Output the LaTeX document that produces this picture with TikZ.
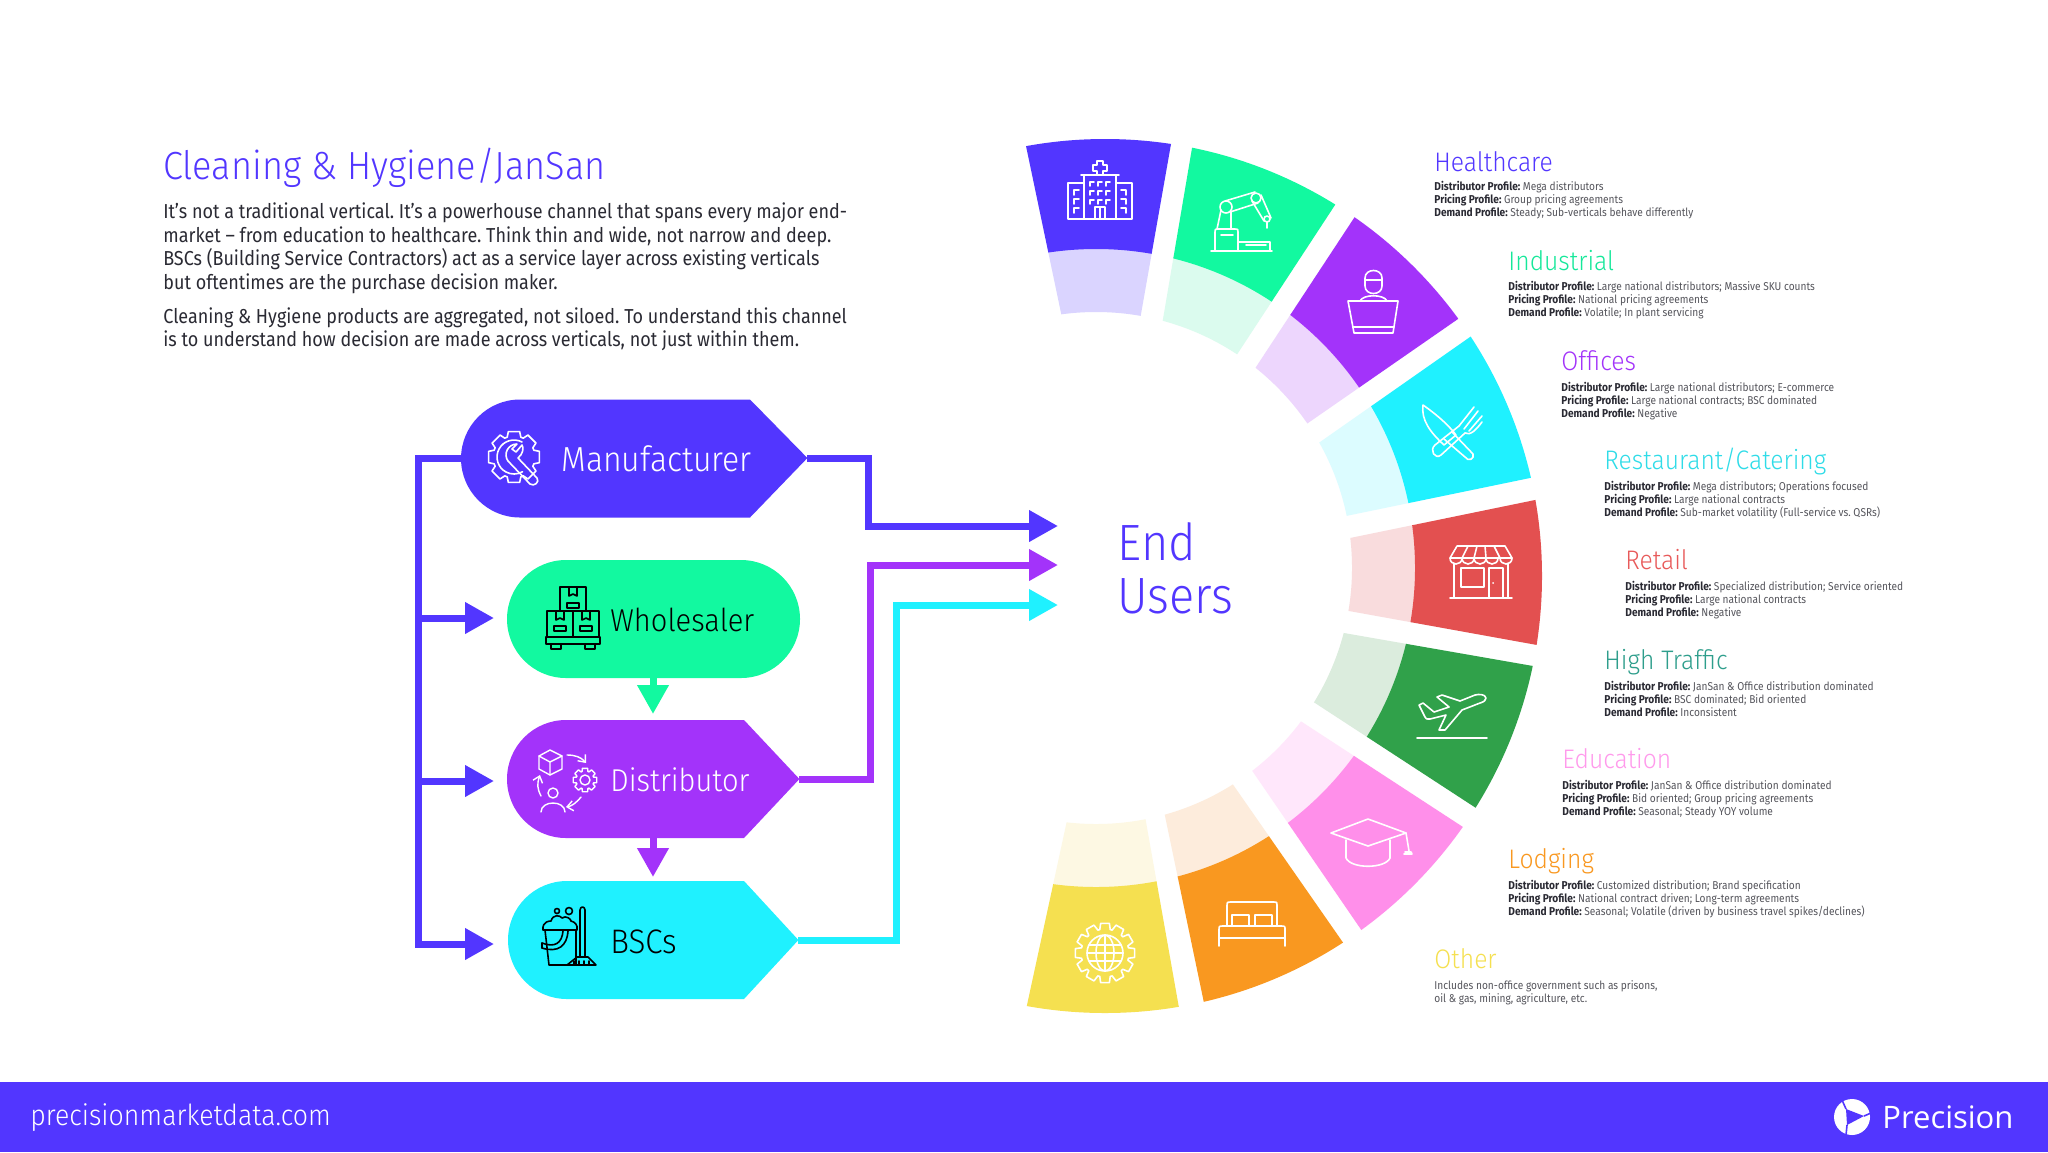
\documentclass[tikz,border=0pt]{standalone}
\usepackage{fontspec}
\setmainfont{Fira Sans}[FakeStretch=0.89]
\newfontfamily\lightf{Fira Sans Light}[FakeStretch=0.92]
\newfontfamily\logof{Open Sans}
\frenchspacing
\usetikzlibrary{calc,arrows.meta}
\definecolor{indigo}{HTML}{5236FF}
\definecolor{mint}{HTML}{12F9A0}
\definecolor{violet}{HTML}{A333FA}
\definecolor{aqua}{HTML}{1FF1FF}
\definecolor{redc}{HTML}{E35050}
\definecolor{forest}{HTML}{30A14A}
\definecolor{pinkc}{HTML}{FF8FEA}
\definecolor{orangec}{HTML}{F99820}
\definecolor{yellowc}{HTML}{F5E050}
\definecolor{lindigo}{HTML}{DAD4FF}
\definecolor{lmint}{HTML}{DBFBEE}
\definecolor{lviolet}{HTML}{EDD6FD}
\definecolor{laqua}{HTML}{DCFCFF}
\definecolor{lred}{HTML}{F9DCDD}
\definecolor{lforest}{HTML}{DBECDD}
\definecolor{lpink}{HTML}{FFE7FB}
\definecolor{lorange}{HTML}{FDECDC}
\definecolor{lyellow}{HTML}{FDF8E3}
\definecolor{inkdark}{HTML}{2A2A33}
\definecolor{inkgray}{HTML}{55555C}
\definecolor{tealh}{HTML}{2E9E8C}
\definecolor{aquah}{HTML}{2FDCE8}
\definecolor{redh}{HTML}{E85A5A}
\definecolor{minth}{HTML}{15E89A}
\definecolor{pinkh}{HTML}{FF9AEC}
\newcommand\seg[6]{%
 \begin{scope}
 \clip ($#6!1.15!#3$) -- ($#5!1.15!#4$) -- ($#4!1.15!#5$) -- ($#3!1.15!#6$) -- cycle;
 \fill[#2,even odd rule] (1096,568) circle[radius=321] (1096,568) circle[radius=256];
 \fill[#1,even odd rule] (1105,576) circle[radius=437] (1096,568) circle[radius=319];
 \end{scope}}
% gear outline: teeth count via step, outer, inner radius
\newcommand\gearline[3]{%
 \draw (0-#1*0.28:#2) \foreach \a in {0,#1,...,359}{ -- (\a-#1*0.28:#2) -- (\a+#1*0.28:#2) -- (\a+#1*0.42:#3) -- (\a+#1*0.58:#3) } -- cycle;}
\newcommand\profl[3]{\textbf{\textcolor{inkdark}{Distributor Profile:}} #1\\\textbf{\textcolor{inkdark}{Pricing Profile:}} #2\\\textbf{\textcolor{inkdark}{Demand Profile:}} #3}
\tikzset{
 hd/.style={anchor=west,inner sep=0pt,text height=9.5pt,text depth=0pt,font=\lightf\fontsize{13.4}{15}\selectfont},
 dl/.style={anchor=west,inner sep=0pt,align=left,text=inkgray,font=\fontsize{5.7}{6.5}\selectfont},
 para/.style={anchor=west,inner sep=0pt,align=left,text=inkdark,font=\fontsize{10.1}{11.75}\selectfont},
 stage/.style={inner sep=0pt,minimum width=#1,minimum height=59pt,draw=none},
 stagetext/.style={anchor=west,inner sep=0pt,text height=12pt,text depth=0pt},
 flow/.style={line width=3.5pt,-{Triangle[length=14.5pt,width=15pt]},#1},
 ico/.style={line width=0.8pt,line join=round,line cap=round,color=#1},
}
\begin{document}
\begin{tikzpicture}[x=0.5pt,y=-0.5pt]
\useasboundingbox (0,0) rectangle (2048,1152);
\fill[white] (0,0) rectangle (2048,1152);
% title and text
\node[anchor=west,inner sep=0pt,text=indigo,font=\lightf\fontsize{19.6}{20}\selectfont] (title) at (163,168) {Cleaning \& Hygiene/JanSan};
\node[para] (p1) at (163,248.5) {It's not a traditional vertical. It's a powerhouse channel that spans every major end-\\market – from education to healthcare. Think thin and wide, not narrow and deep.\\BSCs (Building Service Contractors) act as a service layer across existing verticals\\but oftentimes are the purchase decision maker.};
\node[para] (p2) at (163,329.5) {Cleaning \& Hygiene products are aggregated, not siloed. To understand this channel\\is to understand how decision are made across verticals, not just within them.};
% fan
\seg{indigo}{lindigo}{(1026,146)}{(1171,144)}{(1141,314)}{(1061,313)}
\seg{mint}{lmint}{(1192,148)}{(1335,205)}{(1238,353)}{(1163,319)}
\seg{violet}{lviolet}{(1354,218)}{(1458,319)}{(1308,423)}{(1256,367)}
\seg{aqua}{laqua}{(1470,337)}{(1530,478)}{(1346,516)}{(1320,442)}
\seg{redc}{lred}{(1535,500)}{(1537,645)}{(1349,611)}{(1350,538)}
\seg{forest}{lforest}{(1533,666)}{(1476,808)}{(1315,703)}{(1344,633)}
\seg{pinkc}{lpink}{(1463,827)}{(1362,931)}{(1253,772)}{(1302,722)}
\seg{orangec}{lorange}{(1344,944)}{(1204,1003)}{(1165,816)}{(1234,786)}
\seg{yellowc}{lyellow}{(1179,1008)}{(1027,1005)}{(1066,825)}{(1146,822)}
% fan icons
\begin{scope}[shift={(1100,190)},ico=white]
 \draw (-16,-7) -- (-32,-7) -- (-32,29) -- (32,29) -- (32,-7) -- (16,-7);
 \draw (-16,29) -- (-16,-15) -- (16,-15) -- (16,29) (-19,-15) -- (19,-15);
 \draw (-3,-15) -- (-3,-19) -- (-7,-19) -- (-7,-25) -- (-3,-25) -- (-3,-29) -- (3,-29) -- (3,-25) -- (7,-25) -- (7,-19) -- (3,-19) -- (3,-15);
 \draw (-5,29) -- (-5,17) -- (5,17) -- (5,29) (0,17) -- (0,29);
 \foreach \yy in {-8,1,10}{\foreach \xx in {-10,-2,6}{\draw (\xx,\yy+4) -- (\xx,\yy) -- (\xx+4,\yy);}}
 \foreach \yy in {0,9,18}{\draw (-26,\yy+5) -- (-26,\yy) -- (-21,\yy); \draw (26,\yy+5) -- (26,\yy) -- (21,\yy);}
\end{scope}
\begin{scope}[shift={(1241,222)},ico=white]
 \draw (-30,29) -- (31,29);
 \draw (-26,29) -- (-26,10) .. controls (-26,7) .. (-23,7) -- (-6,7) .. controls (-3,7) .. (-3,10) -- (-3,29);
 \draw (-20,13) -- (-8,13);
 \draw (-3,20) -- (29,20) -- (29,29) (5,23) -- (25,23);
 \draw (-15,-15) circle[radius=6];
 \draw (15,-24) circle[radius=5];
 \draw (-16,-21) -- (14,-30) (-11,-10) -- (17,-19);
 \draw (-20,-12) -- (-24,7) (-10,-10) -- (-10,7);
 \draw (11,-21) -- (23,-1) (20,-27) -- (30,-4);
 \draw (26,-3) circle[radius=3];
 \draw (26,0) -- (26,6);
\end{scope}
\begin{scope}[shift={(1373,302)},ico=white]
 \draw (-8,-24) .. controls (-8,-34) and (9,-34) .. (9,-24) -- (9,-16) .. controls (9,-6) and (-8,-6) .. (-8,-16) -- cycle;
 \draw (-8,-22) -- (9,-22);
 \draw (-13,-1) .. controls (-10,-8) and (11,-8) .. (14,-1);
 \draw (-25,-1) -- (25,-1) -- (20,31) -- (-19,31) -- cycle;
 \draw (-20,25) -- (21,25);
\end{scope}
\begin{scope}[shift={(1452,430)},ico=white]
 \draw (-29,-25) .. controls (-12,-13) and (-2,-3) .. (4,5) -- (-8,15) .. controls (-22,2) and (-31,-10) .. cycle;
 \draw (0,2) -- (21,24) .. controls (23,29) and (16,32) .. (13,27) -- (-8,9);
 \draw (7,-4) -- (-17,15) .. controls (-23,20) and (-17,30) .. (-11,25) -- (13,3);
 \draw (7,-4) -- (22,-23) (12,-1) -- (26,-19) (17,1) -- (30,-14) (13,3) .. controls (18,6) and (24,0) .. (30,-8);
\end{scope}
\begin{scope}[shift={(1481,572)},ico=white]
 \draw (-24,-26) -- (24,-26) -- (31,-14) -- (-31,-14) -- cycle;
 \foreach \xx in {-31,-19,-7,5,19}{\draw (\xx,-14) .. controls (\xx,-6) and (\xx+12,-6) .. (\xx+12,-14);}
 \foreach \xa/\xb in {-13/-19,-4/-7,4/5,13/19}{\draw (\xa,-26) -- (\xb,-14);}
 \draw (-27,-8) -- (-27,26) (27,-8) -- (27,26) (-31,26) -- (31,26);
 \draw (-20,-4) rectangle (3,15);
 \draw (8,26) -- (8,-4) -- (22,-4) -- (22,26);
 \fill[white] (12,11) circle[radius=1];
\end{scope}
\begin{scope}[shift={(1452,717)},ico=white]
 \draw (34,-19) .. controls (33,-23) and (27,-23) .. (23,-22) -- (8,-16) -- (-10,-22) -- (-15,-20) -- (-3,-10) -- (-18,-5) -- (-29,-14) -- (-33,-12) -- (-27,0) .. controls (-26,2) .. (-22,2) -- (-6,-2) -- (-13,13) -- (-7,13) -- (10,-7) -- (28,-14) .. controls (32,-15) and (34,-17) .. cycle;
 \draw (-35,21) -- (35,21);
\end{scope}
\begin{scope}[shift={(1369,843)},ico=white]
 \draw (-38,-10) -- (-1,-24) -- (37,-10) -- (-1,3) -- cycle;
 \draw (-23,-3) -- (-23,15) .. controls (-18,26) and (16,26) .. (21,15) -- (21,-3);
 \draw (37,-10) -- (40,8) (36,9) -- (42,9) -- (43,11) -- (35,11);
\end{scope}
\begin{scope}[shift={(1252,924)},ico=white]
 \draw (-25,2) -- (-25,-19) .. controls (-25,-22) .. (-22,-22) -- (22,-22) .. controls (25,-22) .. (25,-19) -- (25,2);
 \draw (-20,1) -- (-20,-9) -- (-3,-9) -- (-3,1) (3,1) -- (3,-9) -- (20,-9) -- (20,1);
 \draw (-33,22) -- (-33,6) .. controls (-33,2) .. (-29,2) -- (29,2) .. controls (33,2) .. (33,6) -- (33,22);
 \draw (-33,14) -- (33,14);
\end{scope}
\begin{scope}[shift={(1105,953)},ico=white]
 \gearline{30}{30}{24}
 \draw (0,0) circle[radius=18];
 \draw (0,0) ellipse[x radius=9,y radius=18];
 \draw (0,-18) -- (0,18) (-18,0) -- (18,0) (-16,-8) -- (16,-8) (-16,8) -- (16,8);
\end{scope}
% stages
\node[stage=346pt/2] (mfr) at (634,458) {};
\fill[indigo] (520,517.5) -- (750,517.5) -- (mfr.east) -- (750,399.5) -- (520,399.5) arc[start angle=270,end angle=90,radius=59] -- cycle;
\node[stage=146pt] (whl) at (653,619) {};
\fill[mint] (566,560) -- (741,560) arc[start angle=-90,end angle=90,radius=59] -- (566,678) arc[start angle=90,end angle=270,radius=59] -- cycle;
\node[stage=146pt] (dst) at (653,779) {};
\fill[violet] (566,838) -- (744,838) -- (dst.east) -- (744,720) -- (566,720) arc[start angle=270,end angle=90,radius=59] -- cycle;
\node[stage=145pt] (bsc) at (653,940) {};
\fill[aqua] (567,999) -- (744,999) -- (bsc.east) -- (744,881) -- (567,881) arc[start angle=270,end angle=90,radius=59] -- cycle;
\node[stagetext,text=white,font=\lightf\fontsize{17.4}{18}\selectfont] (mfrT) at (561,459) {Manufacturer};
\node[stagetext,text=black,font=\lightf\fontsize{15.8}{18}\selectfont] (whlT) at (610,619) {Wholesaler};
\node[stagetext,text=white,font=\lightf\fontsize{15.8}{18}\selectfont] (dstT) at (610,779) {Distributor};
\node[stagetext,text=black,font=\lightf\fontsize{17}{18}\selectfont] (bscT) at (610,941) {BSCs};
\node[anchor=west,inner sep=0pt,align=left,text=indigo,font=\lightf\fontsize{25.5}{26.5}\selectfont] (end) at (1117,568) {End\\Users};
% connectors
\coordinate (endA) at (1058,526);
\coordinate (endB) at (1058,565);
\coordinate (endC) at (1058,605);
\coordinate (whlIn) at (494,618);
\coordinate (dstIn) at (494,781);
\coordinate (bscIn) at (494,944);
\coordinate (railTop) at (418,458);
\draw[flow=indigo] (mfr.east) -| (868,526) -- (endA);
\draw[flow=violet] (dst.east) -| (870,565) -- (endB);
\draw[flow=aqua] (bsc.east) -| (896,605) -- (endC);
\draw[line width=3.5pt,color=indigo,line join=miter] (mfr.west) -- (railTop) -- (418,944) -- (470,944);
\draw[flow=indigo] (418,618) -- (whlIn);
\draw[flow=indigo] (418,781) -- (dstIn);
\draw[flow=indigo] (418,944) -- (bscIn);
\draw[flow=mint] (whl.south) -- (653,714);
\draw[flow=violet] (dst.south) -- (653,877);
% stage icons
\begin{scope}[shift={(514,457)},ico=white]
 \gearline{45}{26}{21}
 \draw (8,-15) arc[start angle=-62,end angle=-300,radius=17];
 \draw (3,-13) .. controls (-6,-13) and (-11,-3) .. (-6,4) -- (16,27) .. controls (20,30) and (26,25) .. (23,21) -- (4,1) .. controls (9,-3) and (10,-9) .. (8,-12) -- (2,-5) -- (-2,-8) -- cycle;
\end{scope}
\begin{scope}[shift={(573,618)},ico=black]
 \draw (-13,-7) rectangle (13,-31);
 \draw (-4,-31) -- (-4,-22) -- (0,-24) -- (4,-22) -- (4,-31);
 \draw (-6,-15) rectangle (6,-10);
 \draw (-26,19) rectangle (0,-7) (0,19) rectangle (26,-7);
 \foreach \xx in {-13,13}{
 \draw (\xx-4,-7) -- (\xx-4,2) -- (\xx,0) -- (\xx+4,2) -- (\xx+4,-7);
 \draw (\xx-6,8) rectangle (\xx+6,13);}
 \draw (-27,19) rectangle (27,26);
 \draw (-22,26) rectangle (-12,31) (12,26) rectangle (22,31);
\end{scope}
\begin{scope}[shift={(565,780)},ico=white,line width=0.7pt]
 \draw (-15,-30) -- (-3,-24) -- (-3,-11) -- (-15,-5) -- (-26,-11) -- (-26,-24) -- cycle;
 \draw (-26,-24) -- (-15,-18) -- (-3,-24) (-15,-18) -- (-15,-5);
 \begin{scope}[shift={(20,0)}]
 \gearline{45}{12}{9}
 \draw (0,0) circle[radius=5];
 \end{scope}
 \draw[-{Straight Barb[length=3pt,width=5pt]}] (2,-25) .. controls (10,-25) and (16,-23) .. (21,-17);
 \draw[-{Straight Barb[length=3pt,width=5pt]}] (-24,16) .. controls (-28,8) and (-28,4) .. (-25,-5);
 \draw[-{Straight Barb[length=3pt,width=5pt]}] (16,17) .. controls (11,23) and (7,26) .. (1,27);
 \draw (-12,13) circle[radius=5];
 \draw (-24,32) .. controls (-24,20) and (0,20) .. (0,32);
\end{scope}
\begin{scope}[shift={(570,935)},ico=black]
 \draw (-25,-5) -- (-21,30) -- (6,30) -- (6,-5);
 \draw (-27,-5) .. controls (-28,-14) and (-20,-14) .. (-19,-14) .. controls (-17,-21) and (-10,-20) .. (-8,-17) .. controls (-4,-20) and (1,-16) .. (1,-14) .. controls (5,-13) and (8,-10) .. (7,-5) -- cycle;
 \draw (-13,-24) circle[radius=2.5] (-1,-24) circle[radius=3.5];
 \draw (-28,8) .. controls (-15,13) and (-8,8) .. (-7,-4) (-28,13) .. controls (-12,18) and (-3,11) .. (-2,-4);
 \draw (-28,8) -- (-28,13);
 \draw (10,22) -- (10,-25) .. controls (10,-29) and (15,-29) .. (15,-25) -- (15,22);
 \draw (7,22) -- (18,22) -- (26,30) -- (-3,30) -- cycle;
 \foreach \xx in {4,9,14,19}{\draw (\xx,26) -- (\xx,30);}
\end{scope}
% labels
\node[hd,text=indigo] (hHC) at (1434,162) {Healthcare};
\node[dl] (dHC) at (1434,200) {\profl{Mega distributors}{Group pricing agreements}{Steady; Sub-verticals behave differently}};
\node[hd,text=minth] (hIN) at (1508,261) {Industrial};
\node[dl] (dIN) at (1508,300) {\profl{Large national distributors; Massive SKU counts}{National pricing agreements}{Volatile; In plant servicing}};
\node[hd,text=violet] (hOF) at (1561,361) {Offices};
\node[dl] (dOF) at (1561,401) {\profl{Large national distributors; E-commerce}{Large national contracts; BSC dominated}{Negative}};
\node[hd,text=aquah] (hRC) at (1604,460) {Restaurant/Catering};
\node[dl] (dRC) at (1604,500) {\profl{Mega distributors; Operations focused}{Large national contracts}{Sub-market volatility (Full-service vs. QSRs)}};
\node[hd,text=redh] (hRT) at (1625,560) {Retail};
\node[dl] (dRT) at (1625,600) {\profl{Specialized distribution; Service oriented}{Large national contracts}{Negative}};
\node[hd,text=tealh] (hHT) at (1604,660) {High Traffic};
\node[dl] (dHT) at (1604,699) {\profl{JanSan \& Office distribution dominated}{BSC dominated; Bid oriented}{Inconsistent}};
\node[hd,text=pinkh] (hED) at (1562,759) {Education};
\node[dl] (dED) at (1562,799) {\profl{JanSan \& Office distribution dominated}{Bid oriented; Group pricing agreements}{Seasonal; Steady YOY volume}};
\node[hd,text=orangec] (hLO) at (1508,859) {Lodging};
\node[dl] (dLO) at (1508,899) {\profl{Customized distribution; Brand specification}{National contract driven; Long-term agreements}{Seasonal; Volatile (driven by business travel spikes/declines)}};
\node[hd,text=yellowc] (hOT) at (1434,959) {Other};
\node[dl] (dOT) at (1434,993) {Includes non-office government such as prisons,\\oil \& gas, mining, agriculture, etc.};
% footer
\fill[indigo] (0,1082) rectangle (2048,1152);
\node[anchor=west,inner sep=0pt,text=white,font=\lightf\fontsize{14.5}{16}\selectfont] (site) at (30,1118) {precisionmarketdata.com};
\node[anchor=west,inner sep=0pt,text=white,font=\logof\fontsize{15.5}{20}\selectfont] (brand) at (1882,1117) {Precision};
\fill[white] (1852,1117) circle[radius=18];
\fill[indigo] (1846,1109) -- (1864,1116) -- (1847,1125) -- cycle;
\draw[indigo,line width=0.8pt] (1846,1109) -- (1842,1100) (1864,1116) -- (1871,1113) (1847,1125) -- (1846,1135);
\end{tikzpicture}
\end{document}
